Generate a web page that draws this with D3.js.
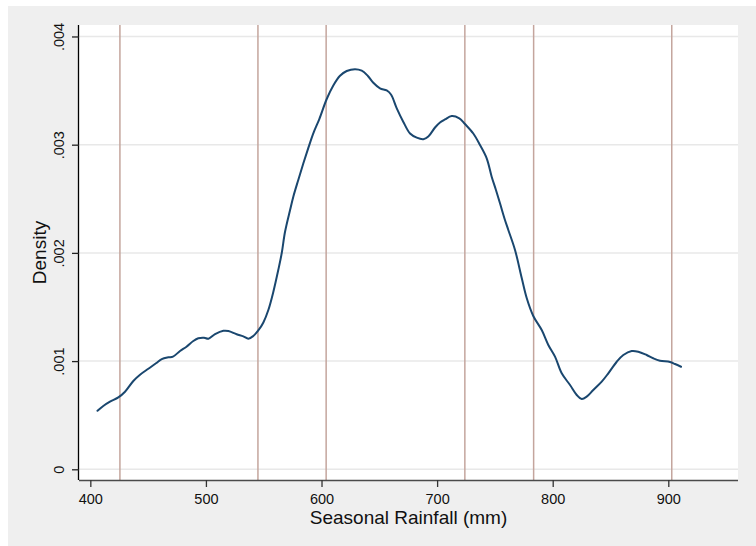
<!DOCTYPE html>
<html>
<head>
<meta charset="utf-8">
<script src="https://cdn.jsdelivr.net/npm/d3@7"></script>
<style>
  html, body { margin: 0; padding: 0; background: #ffffff; }
  svg { display: block; }
</style>
</head>
<body>
<svg id="chart" width="756" height="546"></svg>
<script>
// ---- data ----
const rainfall = [406.2, 411.2, 417.0, 424.2, 430.0, 437.2, 443.0, 450.2, 456.8, 461.8,
  467.5, 471.5, 477.6, 483.2, 489.1, 493.4, 498.4, 502.2, 507.9, 515.1,
  519.4, 526.6, 532.4, 536.7, 541.0, 545.3, 549.7, 554.0, 558.3, 562.6,
  565.6, 568.4, 572.8, 575.6, 579.9, 584.3, 588.6, 592.9, 598.1, 604.5,
  610.2, 616.0, 621.8, 629.0, 634.8, 640.1, 644.6, 650.6, 656.4, 660.1,
  665.1, 670.8, 676.6, 682.4, 688.1, 692.4, 698.2, 702.5, 706.8, 712.6,
  719.2, 724.1, 731.3, 737.1, 742.9, 747.2, 750.9, 754.4, 758.7, 761.6,
  767.4, 773.2, 777.5, 783.2, 790.5, 796.2, 802.0, 807.8, 815.0, 820.8,
  825.1, 829.4, 835.1, 842.4, 848.1, 855.4, 861.1, 868.3, 874.0, 881.3,
  887.0, 892.8, 901.5, 905.8, 911.0];
const density = [0.000541, 0.000585, 0.000625, 0.000664, 0.000717, 0.000816, 0.000874, 0.000929, 0.000980, 0.001019,
  0.001035, 0.001041, 0.001093, 0.001133, 0.001186, 0.001211, 0.001216, 0.001207, 0.001249, 0.001280,
  0.001278, 0.001248, 0.001229, 0.001207, 0.001232, 0.001283, 0.001357, 0.001472, 0.001639, 0.001842,
  0.001999, 0.002193, 0.002396, 0.002519, 0.002674, 0.002828, 0.002970, 0.003105, 0.003237, 0.003422,
  0.003547, 0.003637, 0.003681, 0.003698, 0.003684, 0.003635, 0.003575, 0.003521, 0.003501, 0.003464,
  0.003336, 0.003210, 0.003103, 0.003065, 0.003051, 0.003076, 0.003159, 0.003205, 0.003233, 0.003265,
  0.003244, 0.003191, 0.003103, 0.002997, 0.002874, 0.002704, 0.002581, 0.002458, 0.002304, 0.002212,
  0.002027, 0.001768, 0.001583, 0.001417, 0.001287, 0.001149, 0.001041, 0.000887, 0.000779, 0.000687,
  0.000650, 0.000671, 0.000733, 0.000810, 0.000887, 0.000994, 0.001056, 0.001093, 0.001087, 0.001056,
  0.001026, 0.001004, 0.000992, 0.000973, 0.000948];
const refLines = [425.6, 545, 604, 724, 783.5, 903];
const xTicks = [400, 500, 600, 700, 800, 900];
const yTicks = [0, 0.001, 0.002, 0.003, 0.004];
const xTitle = "Seasonal Rainfall (mm)";
const yTitle = "Density";

// ---- layout ----
const svg = d3.select("#chart");
const L = 79, R = 738, T = 25, B = 480;
const FONT = "Arial, 'Liberation Sans', Helvetica, sans-serif";

svg.append("rect").attr("x", 8).attr("y", 6).attr("width", 748).attr("height", 540).attr("fill", "#efefef");
svg.append("rect").attr("x", L).attr("y", T).attr("width", R - L).attr("height", B - T).attr("fill", "#ffffff");

const x = d3.scaleLinear().domain([390.2, 960.3]).range([L, R]);
const y = d3.scaleLinear().domain([-0.0000989, 0.004106]).range([B, T]);

// gridlines
svg.append("g").selectAll("line").data(yTicks).join("line")
  .attr("x1", L).attr("x2", R)
  .attr("y1", d => y(d)).attr("y2", d => y(d))
  .attr("stroke", "#e8e8e8").attr("stroke-width", 1.5);

// reference lines
svg.append("g").selectAll("line").data(refLines).join("line")
  .attr("x1", d => x(d)).attr("x2", d => x(d))
  .attr("y1", T).attr("y2", B)
  .attr("stroke", "#c4a59d").attr("stroke-width", 1.5);

// density curve
const pts = rainfall.map((r, i) => [r, density[i]]);
svg.append("path").datum(pts)
  .attr("fill", "none").attr("stroke", "#1a476f").attr("stroke-width", 2)
  .attr("stroke-linejoin", "round").attr("stroke-linecap", "round")
  .attr("d", d3.line().x(d => x(d[0])).y(d => y(d[1])).curve(d3.curveCatmullRom.alpha(0.5)));

// x axis
const xAxis = svg.append("g").attr("transform", `translate(0,${B})`)
  .call(d3.axisBottom(x).tickValues(xTicks).tickSize(7).tickPadding(7).tickFormat(d3.format("d")));
xAxis.select(".domain").attr("stroke", "#4a4a4a").attr("stroke-width", 1.5).attr("d", `M${L},0.5H${R}`);
xAxis.selectAll(".tick line").attr("stroke", "#333").attr("stroke-width", 1.3);
xAxis.selectAll(".tick text").attr("font-family", FONT).attr("font-size", 14.5).attr("fill", "#111");

// y axis
const yfmt = d => d === 0 ? "0" : d3.format(".3f")(d).replace(/^0/, "");
const yAxis = svg.append("g").attr("transform", `translate(${L},0)`)
  .call(d3.axisLeft(y).tickValues(yTicks).tickSize(7).tickFormat(yfmt));
yAxis.select(".domain").attr("stroke", "#000").attr("stroke-width", 1.3).attr("d", `M-0.5,${T}V${B}`);
yAxis.selectAll(".tick line").attr("stroke", "#222").attr("stroke-width", 1.3);
yAxis.selectAll(".tick text")
  .attr("font-family", FONT).attr("font-size", 14.5).attr("fill", "#111")
  .attr("x", null).attr("dy", null)
  .attr("text-anchor", "middle")
  .attr("transform", "translate(-15.5,0) rotate(-90)");

// titles
svg.append("text").attr("x", (L + R) / 2).attr("y", 524)
  .attr("text-anchor", "middle").attr("font-family", FONT).attr("font-size", 19).attr("fill", "#111")
  .text(xTitle);
svg.append("text").attr("transform", `translate(46,${(T + B) / 2}) rotate(-90)`)
  .attr("text-anchor", "middle").attr("font-family", FONT).attr("font-size", 19).attr("fill", "#111")
  .text(yTitle);
</script>
</body>
</html>
